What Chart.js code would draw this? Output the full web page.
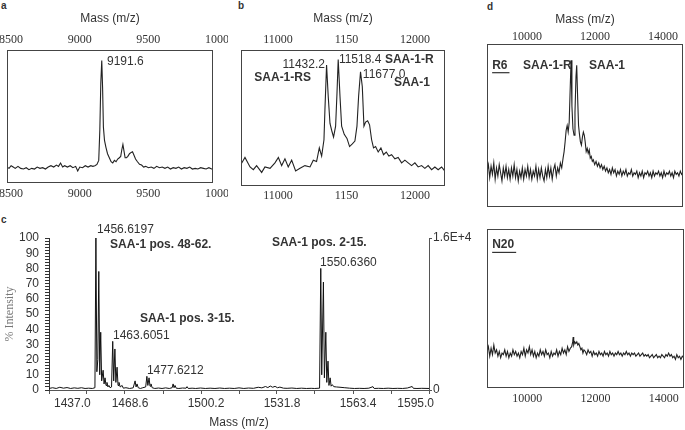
<!DOCTYPE html>
<html>
<head>
<meta charset="utf-8">
<title>SAA-1 mass spectra</title>
<script src="https://cdn.jsdelivr.net/npm/chart.js"></script>
<style>
  body { margin: 0; width: 685px; height: 430px; background: #fff; position: relative; overflow: hidden;
         font-family: "Liberation Sans", Arial, sans-serif; color: #333; }
  .panel { position: absolute; }
  .letter { position: absolute; font-weight: bold; font-size: 10px; line-height: 12px; }
</style>
</head>
<body>
<div class="letter" style="left:1px;top:0px">a</div>
<div class="letter" style="left:238px;top:0px">b</div>
<div class="letter" style="left:1px;top:214px">c</div>
<div class="letter" style="left:487px;top:1px">d</div>

<div class="panel" style="left:0px;top:0px;width:228px;height:210px"><canvas id="chartA"></canvas></div>
<div class="panel" style="left:228px;top:0px;width:230px;height:210px"><canvas id="chartB"></canvas></div>
<div class="panel" style="left:0px;top:220px;width:480px;height:210px"><canvas id="chartC"></canvas></div>
<div class="panel" style="left:470px;top:0px;width:215px;height:215px"><canvas id="chartD1"></canvas></div>
<div class="panel" style="left:470px;top:215px;width:215px;height:215px"><canvas id="chartD2"></canvas></div>

<script>
// ---- panel a : mass vs relative intensity (%)
const aMass = [8500, 8515, 8530, 8545, 8560, 8580, 8600, 8620, 8640, 8660,
               8680, 8700, 8720, 8740, 8760, 8780, 8800, 8820, 8840, 8860,
               8875, 8890, 8905, 8920, 8940, 8960, 8980, 9000, 9015, 9030,
               9050, 9070, 9090, 9110, 9125, 9140, 9155, 9168, 9176, 9183,
               9190, 9196, 9202, 9210, 9220, 9232, 9245, 9258, 9270, 9282,
               9294, 9306, 9318, 9328, 9336, 9344, 9352, 9360, 9370, 9380,
               9392, 9404, 9414, 9424, 9436, 9450, 9465, 9480, 9495, 9510,
               9530, 9550, 9570, 9590, 9610, 9630, 9650, 9670, 9690, 9710,
               9730, 9750, 9770, 9790, 9810, 9830, 9850, 9870, 9890, 9910,
               9930, 9950, 9970, 9990, 10000];
const aInt = [12, 11, 13, 12, 11, 12.5, 11, 10.5, 11.5, 10,
              11, 10.5, 12, 11, 11.5, 10.5, 12, 13, 12, 13.5,
              12.5, 15, 12, 13, 12, 13, 11.5, 12.5, 9, 12,
              11.5, 13, 12, 13, 12.5, 13, 14, 17, 40, 75,
              92, 72, 42, 32, 27, 22, 19, 16, 15, 17,
              16, 18, 19, 20, 25, 29, 24, 19, 19, 20,
              22, 23, 23.5, 21, 18, 16, 14, 13.5, 12, 12.5,
              11.5, 12, 11, 12.5, 11.5, 12, 11, 12, 10.5, 11.5,
              11, 12, 10.5, 11.5, 11, 12, 10.5, 11, 10.5, 11.5,
              11, 10.5, 11.5, 10.5, 10.5];
const aTicks = [8500, 9000, 9500, 10000];
const aTickLabels = ['8500', '9000', '9500', '1000'];

// ---- panel b
const bMass = [10730, 10759, 10796, 10820, 10844, 10881, 10905, 10942, 10978, 11003,
               11027, 11051, 11075, 11100, 11129, 11161, 11197, 11234, 11258, 11282,
               11302, 11319, 11336, 11343, 11355, 11367, 11380, 11392, 11406, 11421,
               11431, 11440, 11453, 11465, 11484, 11504, 11523, 11543, 11562, 11577,
               11589, 11603, 11616, 11628, 11640, 11655, 11669, 11684, 11698, 11713,
               11732, 11752, 11771, 11791, 11810, 11830, 11854, 11878, 11903, 11927,
               11951, 11976, 12000, 12024, 12049, 12073, 12097, 12122, 12146, 12170,
               12195, 12219];
const bInt = [16, 21, 14, 12, 15, 10, 14, 13, 17, 21,
              15, 20, 14, 19, 11, 13, 15, 14, 19, 18,
              28, 22, 34, 56, 89, 66, 46, 41, 36, 44,
              68, 93, 66, 44, 38, 35, 29, 31, 33, 44,
              66, 84, 73, 44, 47, 48, 45, 34, 28, 29,
              25, 28, 23, 25, 22, 23, 20, 21, 17, 19,
              17, 15, 17, 14, 15, 13, 15, 12, 14, 12,
              14, 11];
const bTicks = [11000, 11500, 12000];
const bTickLabels = ['11000', '1150', '12000'];

// ---- panel c : peptide masses, % intensity
const cMass = [1437.0, 1438.5, 1440.0, 1441.5, 1443.0, 1444.5, 1446.0, 1447.5, 1449.0, 1450.5,
               1452.0, 1453.5, 1455.0, 1456.1, 1456.5, 1456.9, 1457.3, 1457.7, 1458.1, 1458.5,
               1458.9, 1459.5, 1459.9, 1460.3, 1460.7, 1461.1, 1461.5, 1461.9, 1462.4, 1463.0,
               1463.5, 1463.9, 1464.4, 1464.8, 1465.3, 1465.7, 1466.1, 1466.6, 1467.4, 1467.9,
               1469.0, 1470.5, 1472.0, 1472.8, 1473.2, 1473.6, 1474.1, 1475.0, 1476.0, 1477.2,
               1477.7, 1478.1, 1478.6, 1479.0, 1479.4, 1479.9, 1481.0, 1482.5, 1484.0, 1485.5,
               1487.0, 1488.2, 1488.6, 1489.0, 1489.4, 1489.9, 1491.0, 1492.5, 1494.0, 1494.4,
               1494.9, 1496.5, 1498.0, 1500.0, 1502.0, 1504.0, 1506.0, 1508.0, 1510.0, 1512.0,
               1514.0, 1516.0, 1518.0, 1520.0, 1522.0, 1524.0, 1525.5, 1527.0, 1528.0, 1529.0,
               1530.0, 1531.0, 1532.0, 1533.0, 1534.5, 1536.0, 1538.0, 1540.0, 1542.0, 1544.0,
               1546.0, 1547.5, 1549.5, 1550.0, 1550.4, 1551.1, 1551.5, 1552.1, 1552.5, 1553.0,
               1553.4, 1553.9, 1554.3, 1554.8, 1555.4, 1556.5, 1558.0, 1560.0, 1562.0, 1564.0,
               1566.0, 1568.0, 1570.0, 1571.7, 1572.2, 1574.0, 1576.0, 1578.0, 1580.0, 1582.0,
               1584.0, 1586.0, 1588.0, 1588.5, 1590.0, 1592.0, 1595.0];
const cInt = [1, 1.5, 1, 1.8, 1.2, 1.6, 1, 1.4, 1.1, 1.5,
              1, 1.2, 1, 1.5, 100, 12, 20, 78, 10, 38,
              6, 13, 4, 8, 3, 5, 2, 3, 1.5, 2,
              32, 6, 27, 5, 15, 3, 5, 2, 3, 1.2,
              1.5, 1, 1.4, 6, 2, 4, 1.5, 1, 1.5, 2,
              9, 3, 8, 2.5, 4, 1.5, 1, 1.3, 1, 1.4,
              1, 1.5, 4, 1.5, 3, 1.2, 1, 1.3, 1.2, 2.2,
              1, 1.2, 1, 1.3, 1, 1.2, 1, 1.3, 1, 1.2,
              1, 1.4, 1, 1.3, 1.1, 1.8, 1.4, 2.3, 1.6, 2.6,
              1.8, 2.4, 1.5, 1.9, 1.2, 1.1, 1.3, 1, 1.2, 1,
              1.1, 1, 1.2, 80, 10, 71, 8, 38, 5, 19,
              3, 8, 2.5, 3.5, 2.2, 2, 1.8, 1.5, 1.2, 1,
              1.1, 1, 1.2, 2.2, 1, 1.1, 1, 1.2, 1, 1.1,
              1, 1.3, 2.3, 1.1, 1, 1.1, 1];
const cXTicks = [1437.0, 1468.6, 1500.2, 1531.8, 1563.4, 1595.0];
const cYTicks = [0, 10, 20, 30, 40, 50, 60, 70, 80, 90, 100];
const cRightTicks = [0, 16000];
const cRightLabels = ['0', '1.6E+4'];

// ---- panel d : R6 (top) and N20 (bottom)
const dTopMass = [8820, 8860, 8900, 8940, 8980, 9020, 9060, 9100, 9140, 9180,
                  9220, 9260, 9300, 9340, 9380, 9420, 9460, 9500, 9540, 9580,
                  9620, 9660, 9700, 9740, 9780, 9820, 9860, 9900, 9940, 9980,
                  10020, 10060, 10100, 10140, 10180, 10220, 10260, 10300, 10340, 10380,
                  10420, 10460, 10500, 10540, 10580, 10620, 10660, 10700, 10740, 10780,
                  10820, 10860, 10900, 10940, 10980, 11020, 11060, 11090, 11120, 11150,
                  11180, 11210, 11240, 11265, 11295, 11320, 11350, 11383, 11410, 11440,
                  11461, 11490, 11515, 11540, 11570, 11600, 11630, 11657, 11685, 11710,
                  11740, 11770, 11800, 11830, 11860, 11890, 11920, 11950, 11990, 12030,
                  12070, 12110, 12150, 12190, 12230, 12270, 12310, 12350, 12390, 12430,
                  12470, 12510, 12550, 12590, 12630, 12670, 12710, 12750, 12790, 12830,
                  12870, 12910, 12950, 12990, 13030, 13070, 13110, 13150, 13190, 13230,
                  13270, 13310, 13350, 13390, 13430, 13470, 13510, 13550, 13590, 13630,
                  13670, 13710, 13750, 13790, 13830, 13870, 13910, 13950, 13990, 14030,
                  14070, 14110, 14150, 14190, 14230, 14270, 14310, 14350, 14390, 14430,
                  14470, 14510, 14550, 14590];
const dTopInt = [22, 26, 18, 25, 20, 27, 17, 24, 19, 26,
                 21, 16, 24, 19, 25, 18, 23, 17, 24, 19,
                 26, 18, 23, 16, 22, 18, 24, 17, 23, 19,
                 25, 18, 23, 17, 22, 19, 25, 17, 23, 18,
                 24, 19, 16, 23, 18, 25, 19, 24, 17, 23,
                 26, 19, 24, 21, 27, 24, 30, 34, 40, 47,
                 50, 46, 52, 70, 90, 62, 48, 44, 58, 80,
                 87, 66, 50, 45, 40, 38, 43, 46, 44, 40,
                 34, 36, 33, 35, 30, 31, 28, 29, 26, 28,
                 25, 27, 24, 26, 23, 25, 22, 24, 21, 23,
                 20, 24, 21, 23, 19, 22, 20, 23, 19, 22,
                 20, 23, 19, 21, 20, 23, 19, 21, 20, 22,
                 18, 21, 19, 22, 18, 21, 20, 22, 19, 21,
                 18, 22, 19, 21, 20, 22, 19, 21, 18, 22,
                 19, 21, 20, 22, 19, 21, 18, 22, 20, 21,
                 19, 22, 20, 21];
const dBotMass = [8820, 8860, 8900, 8940, 8980, 9020, 9060, 9100, 9140, 9180,
                  9220, 9260, 9300, 9340, 9380, 9420, 9460, 9500, 9540, 9580,
                  9620, 9660, 9700, 9740, 9780, 9820, 9860, 9900, 9940, 9980,
                  10020, 10060, 10100, 10140, 10180, 10220, 10260, 10300, 10340, 10380,
                  10420, 10460, 10500, 10540, 10580, 10620, 10660, 10700, 10740, 10780,
                  10820, 10860, 10900, 10940, 10980, 11020, 11060, 11100, 11140, 11180,
                  11220, 11260, 11300, 11330, 11344, 11360, 11390, 11420, 11450, 11480,
                  11510, 11540, 11570, 11600, 11630, 11660, 11700, 11740, 11780, 11820,
                  11860, 11900, 11940, 11980, 12020, 12060, 12100, 12140, 12180, 12220,
                  12260, 12300, 12340, 12380, 12420, 12460, 12500, 12540, 12580, 12620,
                  12660, 12700, 12740, 12780, 12820, 12860, 12900, 12940, 12980, 13020,
                  13060, 13100, 13140, 13180, 13220, 13260, 13300, 13340, 13380, 13420,
                  13460, 13500, 13540, 13580, 13620, 13660, 13700, 13740, 13780, 13820,
                  13860, 13900, 13940, 13980, 14020, 14060, 14100, 14140, 14180, 14220,
                  14260, 14300, 14340, 14380, 14420, 14460, 14500, 14540, 14590];
const dBotInt = [23, 26, 20, 25, 21, 27, 22, 24, 20, 23,
                 19, 22, 21, 24, 20, 23, 19, 22, 20, 24,
                 21, 23, 20, 22, 19, 23, 21, 25, 20, 24,
                 22, 26, 21, 24, 20, 23, 19, 22, 20, 24,
                 21, 23, 20, 24, 21, 22, 19, 23, 20, 22,
                 21, 24, 20, 23, 21, 25, 22, 24, 21, 26,
                 23, 25, 26, 29, 32, 27, 29, 28, 29, 27,
                 28, 26, 24, 25, 22, 24, 23, 21, 24, 22,
                 23, 20, 23, 21, 22, 20, 23, 21, 22, 20,
                 23, 21, 22, 20, 23, 21, 22, 20, 22, 21,
                 23, 21, 22, 20, 22, 21, 23, 21, 22, 20,
                 22, 21, 22, 20, 21, 22, 20, 21, 22, 20,
                 21, 20, 21, 19, 20, 21, 19, 20, 21, 19,
                 20, 19, 21, 20, 19, 21, 20, 22, 20, 21,
                 19, 20, 18, 21, 19, 20, 18, 20, 19];
const dTicks = [10000, 12000, 14000];
const dTickLabels = ['10000', '12000', '14000'];

// text placed on the panels (x in m/z, y in %)
const notes = {
  chartA: [{ text: '9191.6', x: 9228, y: 91 }],
  chartB: [
    { text: '11432.2', x: 11343, y: 89, align: 'right' },
    { text: 'SAA-1-RS', x: 11241, y: 80, align: 'right', bold: true },
    { text: '11518.4', x: 11445, y: 93 },
    { text: 'SAA-1-R', x: 11781, y: 93, bold: true },
    { text: '11677.0', x: 11620, y: 82 },
    { text: 'SAA-1', x: 11847, y: 76, bold: true }
  ],
  chartC: [
    { text: '1456.6197', x: 1457.0, y: 105.3 },
    { text: 'SAA-1 pos. 48-62.', x: 1462.4, y: 95.4, bold: true },
    { text: 'SAA-1 pos. 3-15.', x: 1474.8, y: 46.7, bold: true },
    { text: '1463.6051', x: 1463.6, y: 36 },
    { text: '1477.6212', x: 1477.7, y: 12.7 },
    { text: 'SAA-1 pos. 2-15.', x: 1529.7, y: 97, bold: true },
    { text: '1550.6360', x: 1549.7, y: 84 }
  ],
  chartD1: [
    { text: 'R6', x: 8971, y: 87, bold: true, underline: true },
    { text: 'SAA-1-R', x: 9883, y: 87, bold: true },
    { text: 'SAA-1', x: 11824, y: 87, bold: true }
  ],
  chartD2: [{ text: 'N20', x: 8971, y: 90, bold: true, underline: true }]
};
const framed = ['chartA', 'chartB', 'chartD1', 'chartD2'];

const serif = '"Liberation Serif", "Times New Roman", serif';
Chart.defaults.font.family = '"Liberation Sans", Arial, sans-serif';
Chart.defaults.font.size = 12;
Chart.defaults.color = '#333';

function pts(xs, ys) {
  return xs.map((x, i) => ({ x: x, y: ys[i] }));
}

// force an axis to a fixed thickness so the plot boxes land where they should
function fixSize(size) {
  return function (s) {
    if (s.isHorizontal()) s.height = size; else s.width = size;
    s.paddingLeft = 0; s.paddingRight = 0; s.paddingTop = 0; s.paddingBottom = 0;
  };
}

function withMinor(vals, n) {
  const out = [];
  vals.forEach((v, i) => {
    out.push(v);
    if (i < vals.length - 1) {
      for (let k = 1; k < n; k++) out.push(v + (vals[i + 1] - v) * k / n);
    }
  });
  return out;
}

function labelFor(vals, v, dec) {
  const i = vals.findIndex(t => Math.abs(t - v) < 0.001);
  return i < 0 ? '' : vals[i].toFixed(dec);
}

const framePlugin = {
  id: 'frame',
  afterDraw(chart) {
    if (framed.indexOf(chart.canvas.id) < 0) return;
    const a = chart.chartArea, ctx = chart.ctx;
    ctx.save();
    ctx.strokeStyle = '#444';
    ctx.lineWidth = 1;
    ctx.strokeRect(a.left + 0.5, a.top + 0.5, a.right - a.left - 1, a.bottom - a.top - 1);
    ctx.restore();
  }
};

const notesPlugin = {
  id: 'notes',
  afterDraw(chart) {
    const list = notes[chart.canvas.id] || [];
    const ctx = chart.ctx, xs = chart.scales.x, ys = chart.scales.y;
    ctx.save();
    ctx.fillStyle = '#333';
    ctx.strokeStyle = '#333';
    ctx.textBaseline = 'middle';
    list.forEach(n => {
      ctx.font = (n.bold ? 'bold ' : '') + '12px "Liberation Sans", Arial, sans-serif';
      ctx.textAlign = n.align || 'left';
      const px = xs.getPixelForValue(n.x), py = ys.getPixelForValue(n.y);
      ctx.fillText(n.text, px, py);
      if (n.underline) {
        const w = ctx.measureText(n.text).width;
        ctx.lineWidth = 1.2;
        ctx.beginPath();
        ctx.moveTo(px, py + 7.5);
        ctx.lineTo(px + w + 2, py + 7.5);
        ctx.stroke();
      }
    });
    ctx.restore();
  }
};
Chart.register(framePlugin, notesPlugin);

function massAxis(position, min, max, vals, labels, size, pad, title, titleTop, offset) {
  if (!size) return { type: 'linear', position: position, min: min, max: max, display: false };
  return {
    type: 'linear', position: position, min: min, max: max,
    afterBuildTicks: s => { s.ticks = vals.map(v => ({ value: v })); },
    afterFit: fixSize(size),
    grid: { display: false, drawTicks: false },
    border: { display: false },
    ticks: { autoSkip: false, maxRotation: 0, padding: pad, labelOffset: offset || 0,
             font: { family: serif, size: 12 }, callback: (v, i) => labels[i] },
    title: { display: !!title, text: title || '', padding: { top: titleTop || 0, bottom: 0 } }
  };
}

function spectrum(id, mass, inten, scales, padding) {
  return new Chart(document.getElementById(id), {
    type: 'line',
    data: { datasets: [{ data: pts(mass, inten), xAxisID: 'x', yAxisID: 'y', borderColor: '#222',
                         borderWidth: 1.1, pointRadius: 0, tension: 0 }] },
    options: {
      responsive: true, maintainAspectRatio: false, animation: false,
      layout: { padding: padding },
      plugins: { legend: { display: false }, tooltip: { enabled: false } },
      scales: Object.assign({ y: { min: 0, max: 100, display: false } }, scales)
    }
  });
}

spectrum('chartA', aMass, aInt, {
  x: massAxis('bottom', 8500, 10000, aTicks, aTickLabels, 27, 4, null, 0, 4),
  x2: massAxis('top', 8500, 10000, aTicks, aTickLabels, 50, 3, 'Mass (m/z)', 11, 4)
}, { left: 7, right: 15, top: 0, bottom: 0 });

spectrum('chartB', bMass, bInt, {
  x: massAxis('bottom', 10730, 12220, bTicks, bTickLabels, 24, 3),
  x2: massAxis('top', 10730, 12220, bTicks, bTickLabels, 50, 3, 'Mass (m/z)', 11)
}, { left: 13, right: 13, top: 0, bottom: 0 });

spectrum('chartD1', dTopMass, dTopInt, {
  x: massAxis('bottom', 8820, 14590, dTicks, dTickLabels, 0),
  x2: massAxis('top', 8820, 14590, dTicks, dTickLabels, 44, 0, 'Mass (m/z)', 12)
}, { left: 17, right: 2, top: 0, bottom: 8 });

spectrum('chartD2', dBotMass, dBotInt, {
  x: massAxis('bottom', 8820, 14590, dTicks, dTickLabels, 42, 4)
}, { left: 17, right: 1, top: 14, bottom: 0 });

// panel c has real axes with tick marks
new Chart(document.getElementById('chartC'), {
  type: 'line',
  data: { datasets: [{ data: pts(cMass, cInt), xAxisID: 'x', yAxisID: 'y', borderColor: '#111',
                       borderWidth: 1, pointRadius: 0, tension: 0 }] },
  options: {
    responsive: true, maintainAspectRatio: false, animation: false,
    layout: { padding: { left: 0, right: 6, top: 18, bottom: 0 } },
    plugins: { legend: { display: false }, tooltip: { enabled: false } },
    scales: {
      x: {
        type: 'linear', position: 'bottom', min: 1437, max: 1595,
        afterBuildTicks: s => { s.ticks = withMinor(cXTicks, 2).map(v => ({ value: v })); },
        afterFit: fixSize(40),
        grid: { display: true, drawOnChartArea: false, drawTicks: true, tickLength: 4, color: '#555' },
        border: { display: true, color: '#555' },
        ticks: { autoSkip: false, maxRotation: 0, padding: 2, align: 'inner', labelOffset: 5,
                 callback: v => labelFor(cXTicks, v, 1) },
        title: { display: true, text: 'Mass (m/z)', padding: { top: 0, bottom: 0 } }
      },
      y: {
        type: 'linear', position: 'left', min: 0, max: 100,
        afterBuildTicks: s => { s.ticks = withMinor(cYTicks, 5).map(v => ({ value: v })); },
        afterFit: fixSize(49),
        grid: { display: true, drawOnChartArea: false, drawTicks: true, tickLength: 4, color: '#333' },
        border: { display: true, color: '#333' },
        ticks: { autoSkip: false, padding: 6, callback: v => labelFor(cYTicks, v, 0) },
        title: { display: true, text: '% Intensity', color: '#777', font: { family: serif, size: 12 },
                 padding: { top: 3, bottom: 0 } }
      },
      y2: {
        type: 'linear', position: 'right', min: 0, max: 16000,
        afterBuildTicks: s => { s.ticks = cRightTicks.map(v => ({ value: v })); },
        afterFit: fixSize(45),
        grid: { display: true, drawOnChartArea: false, drawTicks: true, tickLength: 3, color: '#555' },
        border: { display: true, color: '#555' },
        ticks: { autoSkip: false, padding: 1, callback: (v, i) => cRightLabels[i] }
      }
    }
  }
});
</script>
</body>
</html>
